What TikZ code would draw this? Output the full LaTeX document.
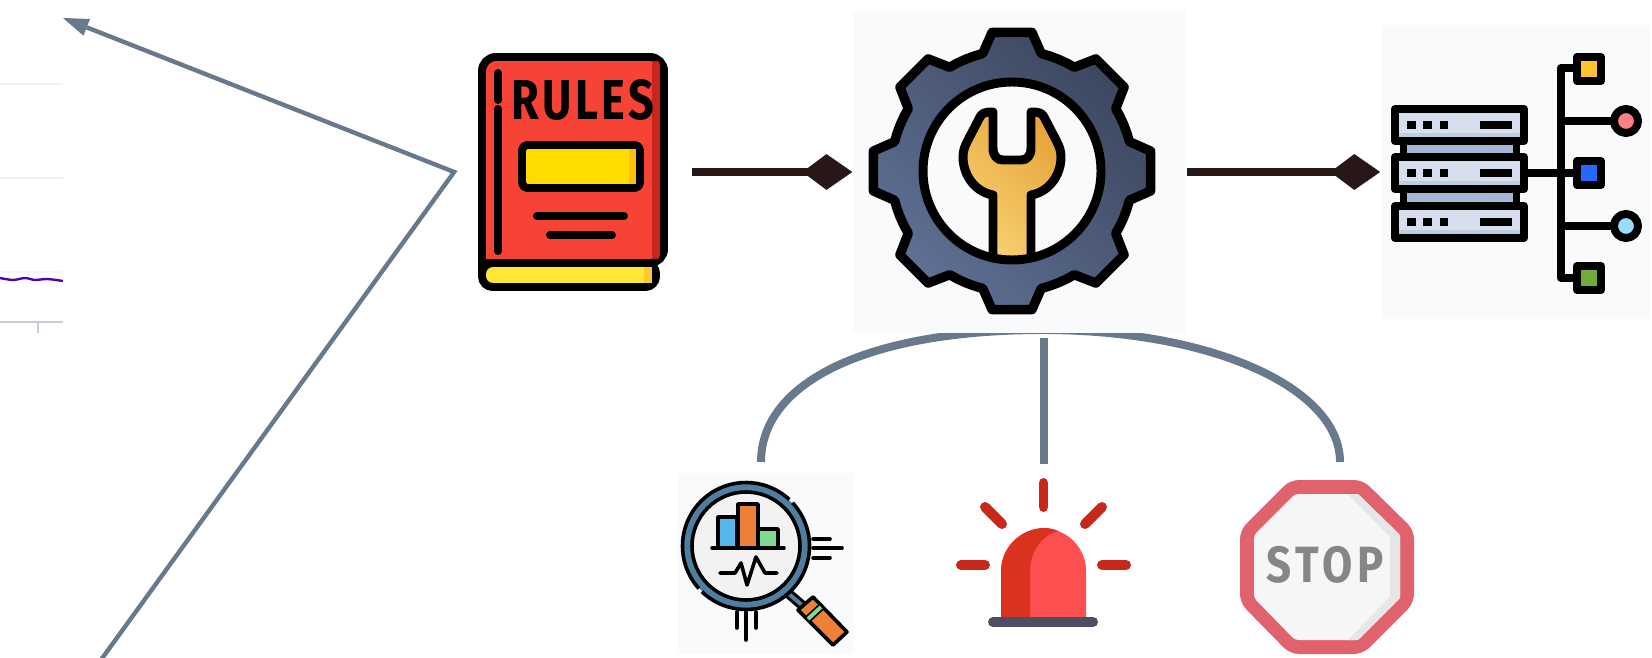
\documentclass[tikz,border=0pt]{standalone}
\usepackage{fontspec}
\usetikzlibrary{arrows.meta}
\newfontfamily\iconfont{Fira Sans}
\newcommand{\pxu}{0.5669pt}
\definecolor{slateline}{HTML}{68798B}
\definecolor{tipdark}{HTML}{271717}
\definecolor{panelgrey}{HTML}{F8FAFB}
\definecolor{bookred}{HTML}{F64335}
\definecolor{bookdark}{HTML}{C9251D}
\definecolor{labelyellow}{HTML}{FFDC00}
\definecolor{labelshade}{HTML}{FDC010}
\definecolor{pageyellow}{HTML}{FEE734}
\definecolor{pageshade}{HTML}{FBC930}
\definecolor{gearlight}{HTML}{5F7094}
\definecolor{geardark}{HTML}{3C475F}
\definecolor{wrenchlight}{HTML}{F7D070}
\definecolor{wrenchdark}{HTML}{E6A63C}
\definecolor{rackfill}{HTML}{D7DFEC}
\definecolor{rackshade}{HTML}{C2CCE0}
\definecolor{rackbar}{HTML}{A4B8D6}
\definecolor{lensring}{HTML}{4F7FA0}
\definecolor{chartblue}{HTML}{55B7EA}
\definecolor{chartorange}{HTML}{EC8036}
\definecolor{chartgreen}{HTML}{7FD992}
\definecolor{alertray}{HTML}{C8281A}
\definecolor{alertred}{HTML}{FD4F4F}
\definecolor{alertdark}{HTML}{D93320}
\definecolor{alertbase}{HTML}{4C4F64}
\definecolor{stopred}{HTML}{E0626D}
\definecolor{stopface}{HTML}{F6F6F6}
\definecolor{stopshade}{HTML}{E6E6E6}
\definecolor{stoptextgrey}{HTML}{868686}
\tikzset{
    panelbox/.style={fill=panelgrey, inner sep=0pt},
    iconbox/.style={inner sep=0pt},
    stemline/.style={slateline, line width=8*\pxu},
    returnline/.style={slateline, line width=4.4*\pxu, line join=miter},
    linkline/.style={tipdark, line width=8*\pxu,
        -{Kite[length=50*\pxu, width=36*\pxu, inset=24*\pxu, line width=0pt]}},
    inkline/.style={draw=black, line width=8*\pxu, line join=round},
    thinink/.style={draw=black, line width=3.6*\pxu, line join=round, line cap=round},
    rayline/.style={draw=alertray, line width=10*\pxu, line cap=round},
}
\begin{document}
\begin{tikzpicture}[x=0.02cm, y=-0.02cm]
    \useasboundingbox (0,0) rectangle (1652,658);

    % Cut-off chart on the left
    \draw[black!6, line width=2*\pxu] (0,84) -- (63,84);
    \draw[black!6, line width=2*\pxu] (0,178) -- (63,178);
    \draw[black!4, line width=1.5*\pxu] (0,272) -- (63,272);
    \draw[blue!25!black!20, line width=1.5*\pxu] (0,322) -- (63,322);
    \draw[blue!25!black!20, line width=1.5*\pxu] (38,322) -- (38,333);
    \draw[violet!70!blue, line width=2.4*\pxu] plot[smooth] coordinates {(0,278) (13,280) (25,278) (35,280) (47,279) (63,281)};

    % Arches go under the gear panel
    \coordinate (lensin) at (761,462);
    \coordinate (stopin) at (1340,462);
    \coordinate (archtop) at (1043,330);
    \draw[stemline] (lensin) .. controls (761,382) and (868,330) .. (archtop)
        .. controls (1212,330) and (1340,388) .. (stopin);

    % Named boxes for the icons
    \node[iconbox, minimum width=238*\pxu, minimum height=240*\pxu] (rules) at (573,172) {};
    \node[panelbox, minimum width=335*\pxu, minimum height=324*\pxu] (gearbox) at (1019.5,172) {};
    \node[panelbox, minimum width=272*\pxu, minimum height=295*\pxu] (serverbox) at (1516,172) {};
    \node[panelbox, minimum width=176*\pxu, minimum height=181*\pxu] (lensbox) at (765,563.5) {};
    \node[iconbox, minimum width=165*\pxu, minimum height=163*\pxu] (alert) at (1043.5,545.5) {};
    \node[iconbox, minimum width=174*\pxu, minimum height=174*\pxu] (stopsign) at (1327,567) {};

    % Connectors
    \coordinate (offpage) at (98,664);
    \coordinate (farend) at (63,18);
    \draw[returnline, -{Triangle[length=25.6*\pxu, width=18*\pxu, line width=0pt]}]
        (offpage) -- (rules.west) -- (farend);
    \draw[linkline] (rules.east) -- (gearbox.west);
    \draw[linkline] (gearbox.east) -- (serverbox.west);
    \draw[stemline, shorten <=4*\pxu] (alert.north |- gearbox.south) -- (alert.north);

    % Rule book
    \draw[inkline, fill=pageyellow, rounded corners=6pt] (482,263) -- (482,287) -- (656,287) -- (656,263) -- cycle;
    \fill[pageshade] (644,267) rectangle (652,283);
    \draw[inkline, fill=bookred, rounded corners=8pt] (482,275) -- (482,57) -- (664,57) -- (664,263) -- (482,263);
    \fill[bookdark, rounded corners=2pt] (652,61) rectangle (660,259);
    \draw[inkline, line cap=round] (498,73) -- (498,100);
    \draw[inkline, line cap=round] (498,109) -- (498,251);
    \node[anchor=base, inner sep=0pt, xscale=0.8, transform shape] (rulestext) at (583,120) {\iconfont\bfseries\fontsize{32}{32}\selectfont\addfontfeature{LetterSpace=8}RULES};
    \draw[inkline, fill=labelyellow, rounded corners=3pt] (522,145) rectangle (640,188);
    \fill[labelshade] (629,149) rectangle (636,184);
    \draw[inkline, line cap=round] (537,216) -- (624,216);
    \draw[inkline, line cap=round] (550,235) -- (612,235);

    % Gear and wrench
    \draw[inkline, line width=9.5*\pxu, shift={(1012,171)}, left color=gearlight, right color=geardark, shading angle=135]
        (-8.2:140) \foreach \a in {0,45,...,315} {
            -- (\a+8.2:140) -- (\a+14:121) -- (\a+18:121) -- (\a+22.5:121) -- (\a+27:121) -- (\a+31:121) -- (\a+36.8:140)
        } -- cycle;
    \fill[panelgrey] (1012,171) circle (89);
    \draw[inkline, line width=9*\pxu, left color=wrenchlight, right color=wrenchdark, shading angle=135]
        (993,258) -- (993,195) .. controls (975,192) and (963,175) .. (963,157)
        .. controls (963,150) and (965,146) .. (968,140) -- (980,117)
        .. controls (982,113) and (985,112) .. (993,112) -- (993,148)
        .. controls (993,156) and (997,160) .. (1003,160) -- (1021,160)
        .. controls (1027,160) and (1031,156) .. (1031,148) -- (1031,112)
        .. controls (1039,112) and (1042,113) .. (1044,117) -- (1056,140)
        .. controls (1059,146) and (1061,150) .. (1061,157)
        .. controls (1061,175) and (1049,192) .. (1031,195) -- (1031,258);
    \draw[inkline, line width=9*\pxu] (1012,171) circle (89);

    % Server rack
    \fill[black] (1400,141) rectangle (1520,206);
    \fill[rackbar] (1407,145) rectangle (1513,153);
    \fill[rackbar] (1407,193) rectangle (1513,202);
    \foreach \y in {109,157,206} {
        \draw[inkline, fill=rackfill] (1395,\y) rectangle (1524,\y+32);
        \fill[rackshade] (1399,\y+24) rectangle (1520,\y+28);
        \fill[black] (1407,\y+12) rectangle (1416,\y+20);
        \fill[black] (1423,\y+12) rectangle (1432,\y+20);
        \fill[black] (1440,\y+12) rectangle (1448,\y+20);
        \fill[black] (1480,\y+12) rectangle (1512,\y+20);
    }
    \draw[inkline] (1528,173) -- (1573,173);
    \draw[inkline] (1575,68) -- (1561,68) -- (1561,278) -- (1575,278);
    \draw[inkline] (1561,121) -- (1612,121);
    \draw[inkline] (1561,226) -- (1612,226);
    \draw[inkline, fill=orange!60!yellow!80!white] (1577,57) rectangle (1601,81);
    \draw[inkline, fill=blue!70!cyan!85!white] (1577,161) rectangle (1601,185);
    \draw[inkline, fill=green!50!yellow!60!black!80!white] (1577,266) rectangle (1601,290);
    \draw[inkline, fill=red!50!white] (1626,121) circle (12);
    \draw[inkline, fill=cyan!40!white] (1626,226) circle (12);

    % Magnifier
    \draw[black, line width=10*\pxu] (789,594) -- (803,606);
    \draw[lensring, line width=4*\pxu] (789,594) -- (803,606);
    \draw[thinink, fill=chartorange] (798,610) -- (813,597) -- (847,632) -- (833,645) -- cycle;
    \draw[black, line width=7.5*\pxu] (808,619) -- (821,607);
    \draw[chartgreen, line width=4*\pxu] (808,619) -- (821,607);
    \fill[black!5] (746,546) circle (53);
    \draw[lensring, line width=8*\pxu] (746,546) circle (59);
    \draw[black, line width=3.6*\pxu] (746,546) circle (54);
    \draw[black, line width=3.6*\pxu] (-43:63.5) ++(746,546) arc[start angle=-43, end angle=134, radius=63.5];
    \draw[black, line width=3.6*\pxu] (138:63.5) ++(746,546) arc[start angle=138, end angle=313, radius=63.5];
    \draw[thinink, fill=chartblue] (718,548) -- (718,517) -- (737,517) -- (737,548);
    \draw[thinink, fill=chartorange] (738,548) -- (738,504) -- (758,504) -- (758,548);
    \draw[thinink, fill=chartgreen] (758,548) -- (758,529) -- (778,529) -- (778,548);
    \draw[thinink] (712,548) -- (784,548);
    \draw[thinink] (720,573) -- (735,573) -- (741,563) -- (747,585) -- (756,557) -- (765,573) -- (777,573);
    \draw[thinink] (813,539) -- (830,539);
    \draw[thinink] (813,548) -- (842,548);
    \draw[thinink] (813,558) -- (830,558);
    \draw[thinink] (737,612) -- (737,628);
    \draw[thinink] (746,612) -- (746,640);
    \draw[thinink] (756,612) -- (756,628);

    % Alert light
    \draw[rayline] (1043.5,483) -- (1043.5,507);
    \draw[rayline] (985,507) -- (1002,524);
    \draw[rayline] (1102,507) -- (1085,524);
    \draw[rayline] (961,565) -- (985,565);
    \draw[rayline] (1102,565) -- (1126,565);
    \fill[alertred] (1001,617) -- (1001,571) arc[start angle=180, end angle=360, radius=42.5] -- (1086,617) -- cycle;
    \fill[alertdark] (1001,617) -- (1001,571) .. controls (1001,547) and (1022,528) .. (1044,528) .. controls (1050,528) and (1054,529) .. (1058,531) .. controls (1041,536) and (1030,552) .. (1030,571) -- (1030,617) -- cycle;
    \draw[alertbase, line width=10*\pxu, line cap=round] (993,622) -- (1093,622);

    % Stop sign
    \fill[stopred, rounded corners=5pt] (1290,480) -- (1363,480) -- (1414,530) -- (1414,603) -- (1363,654) -- (1290,654) -- (1240,603) -- (1240,530) -- cycle;
    \fill[stopface, rounded corners=2pt] (1295,494) -- (1358,494) -- (1400,535) -- (1400,598) -- (1358,640) -- (1295,640) -- (1254,598) -- (1254,535) -- cycle;
    \fill[stopshade] (1348,494) -- (1358,494) -- (1400,535) -- (1400,598) -- (1358,640) -- (1348,640) -- (1390,597) -- (1390,537) -- cycle;
    \node[anchor=base, inner sep=0pt, text=stoptextgrey, xscale=0.86, transform shape] (stoptext) at (1325,582) {\iconfont\bfseries\fontsize{29}{29}\selectfont\addfontfeature{LetterSpace=11}STOP};
\end{tikzpicture}
\end{document}
